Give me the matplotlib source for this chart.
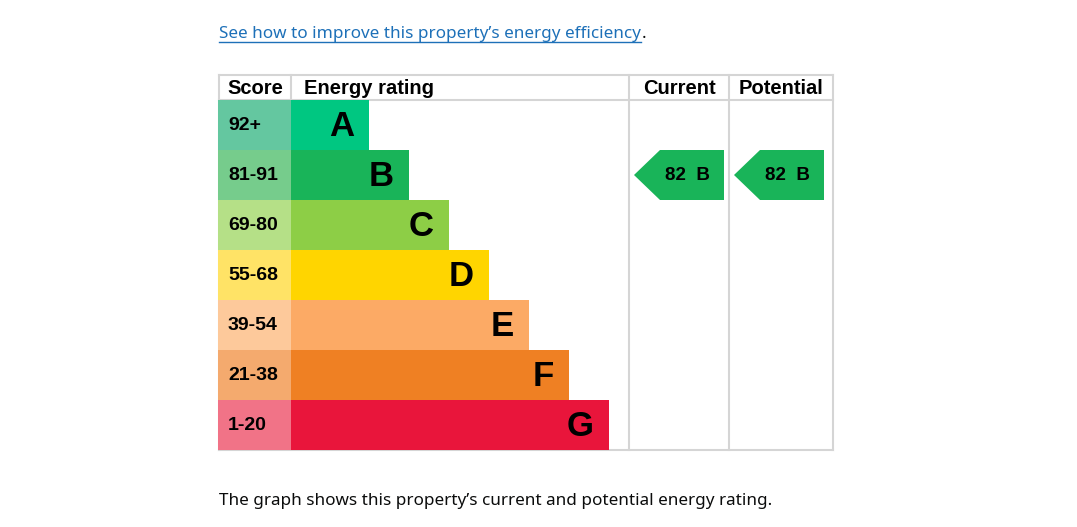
import matplotlib.pyplot as plt
from matplotlib.patches import Polygon

# data
bands = ["A", "B", "C", "D", "E", "F", "G"]
score_ranges = ["92+", "81-91", "69-80", "55-68", "39-54", "21-38", "1-20"]
band_colors = ["#00c781", "#19b459", "#8dce46", "#ffd500", "#fcaa65", "#ef8023", "#e9153b"]
score_colors = ["#64c7a0", "#76cc8c", "#b5e087", "#ffe366", "#fdc99b", "#f4aa6e", "#f17387"]
current_score, current_band = 82, "B"
potential_score, potential_band = 82, "B"

W, H = 1077, 527
fig = plt.figure(figsize=(W / 100, H / 100), dpi=100)
ax = fig.add_axes([0, 0, 1, 1])
ax.set_xlim(0, W)
ax.set_ylim(H, 0)
ax.axis("off")

grid = "#d5d5d5"
left, score_w, bar_x0 = 219, 72, 291
cur_x, pot_x, right = 629, 729, 833
top, head_h, row_h = 75, 25, 50
body_top = top + head_h
bottom = body_top + row_h * len(bands)

# table lines
for y in (top, body_top, bottom):
    ax.plot([left, right], [y, y], color=grid, lw=1.5, zorder=1)
for x in (left, bar_x0, cur_x, pot_x, right):
    y1 = body_top if x == bar_x0 else bottom
    ax.plot([x, x], [top, y1], color=grid, lw=1.5, zorder=1)

hfont = dict(family="Liberation Sans", weight="bold", fontsize=14.5)
ax.text(left + 8, top + 13, "Score", va="center", ha="left", **hfont)
ax.text(bar_x0 + 13, top + 13, "Energy rating", va="center", ha="left", **hfont)
ax.text((cur_x + pot_x) / 2, top + 13, "Current", va="center", ha="center", **hfont)
ax.text((pot_x + right) / 2, top + 13, "Potential", va="center", ha="center", **hfont)

# bands
centers = [body_top + row_h * (i + 0.5) for i in range(len(bands))]
widths = [78 + 40 * i for i in range(len(bands))]
ax.barh(centers, [score_w + 1] * len(bands), left=left - 1, height=row_h,
        color=score_colors, zorder=3)
ax.barh(centers, widths, left=bar_x0, height=row_h, color=band_colors, zorder=3)
for i, b in enumerate(bands):
    ax.text(left + 9, centers[i] + 1, score_ranges[i], va="center", ha="left",
            family="Liberation Sans", weight="bold", fontsize=14, zorder=4)
    ax.text(bar_x0 + widths[i] - 15, centers[i] + 2, b, va="center", ha="right",
            family="Liberation Sans", weight="bold", fontsize=25, zorder=4)


def arrow(x0, score, band):
    i = bands.index(band)
    yc = centers[i]
    pts = [(x0 + 5, yc), (x0 + 31, yc - row_h / 2), (x0 + 95, yc - row_h / 2),
           (x0 + 95, yc + row_h / 2), (x0 + 31, yc + row_h / 2)]
    ax.add_patch(Polygon(pts, closed=True, color=band_colors[i], lw=0, zorder=3))
    ax.text(x0 + 58, yc + 1, f"{score}  {band}", va="center", ha="center",
            family="Liberation Sans", weight="bold", fontsize=13.5, zorder=4)


arrow(cur_x, current_score, current_band)
arrow(pot_x, potential_score, potential_band)

# surrounding text
link = ax.text(left, 34, "See how to improve this property\u2019s energy efficiency",
               va="center", ha="left", family="Noto Sans", fontsize=12.3, color="#1d70b8")
fig.canvas.draw()
x_end = link.get_window_extent().x1
ax.plot([left, x_end], [42, 42], color="#1d70b8", lw=1)
ax.text(x_end + 1, 34, ".", va="center", ha="left", family="Noto Sans", fontsize=12.3, color="#0b0c0c")
ax.text(left, 501, "The graph shows this property\u2019s current and potential energy rating.",
        va="center", ha="left", family="Noto Sans", fontsize=12.3, color="#0b0c0c")

fig.savefig("out.png", dpi=100)
